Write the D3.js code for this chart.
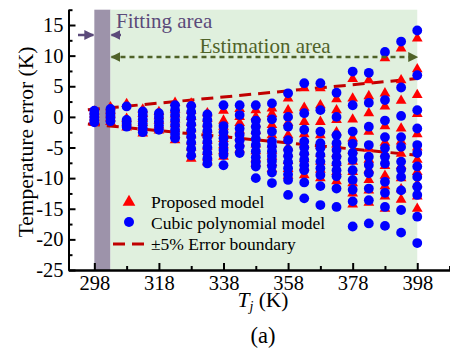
<!DOCTYPE html>
<html><head><meta charset="utf-8">
<script src="https://cdn.jsdelivr.net/npm/d3@7"></script>
<style>body{margin:0;background:#fff}svg{display:block}text{font-family:"Liberation Serif","Times New Roman",serif}</style>
</head><body>
<svg id="c" width="450" height="356"></svg>
<script>
// ---- data ----
const temps = [298,303,308,313,318,323,328,333,338,343,348,353,358,363,368,373,378,383,388,393,398];
const proposedErr = [
  [0.9,0.4,-0.1,-0.6,-1.0],
  [1.6,1.0,0.4,-0.2,-0.8],
  [2.1,-0.3,-0.9,-1.7],
  [1.2,0.5,-0.3,-1.0,-1.8,-2.7],
  [0.8,0.1,-0.6,-1.4,-2.2],
  [2.3,1.2,0.4,-0.4,-1.2,-2.0,-2.9,-3.8],
  [2.2,1.0,0.0,-1.0,-2.0,-3.0,-4.0,-5.0,-6.0,-6.8],
  [0.6,-0.3,-1.2,-2.1,-3.0,-3.9,-4.8,-5.7,-6.6,-7.4],
  [1.0,-0.6,-1.6,-2.6,-3.6,-4.6,-5.5,-6.5],
  [1.3,0.0,-1.0,-2.2,-3.3,-4.3,-5.3],
  [1.1,0.0,-1.2,-2.3,-3.4,-4.5,-5.6,-6.8,-7.6],
  [1.4,0.5,-1.3,-3.0,-4.5,-5.5,-6.5,-7.5,-8.5],
  [3.0,1.1,-1.0,-3.0,-5.0,-6.0,-7.2,-8.5,-9.6],
  [4.7,1.5,-0.8,-2.8,-4.5,-5.7,-6.9,-8.2,-9.5],
  [4.7,1.9,-0.8,-3.0,-4.7,-6.0,-7.3,-8.6,-10.0],
  [2.9,1.1,-0.5,-2.5,-4.5,-6.0,-7.5,-9.0,-10.5],
  [6.2,3.0,-0.4,-3.5,-5.5,-7.3,-9.0,-10.8,-12.5,-14.3],
  [6.0,3.4,0.6,-2.4,-5.2,-7.0,-8.6,-10.3,-12.0,-14.0],
  [9.6,3.85,1.7,-1.5,-4.2,-6.0,-8.0,-9.6,-11.3,-13.0,-15.0],
  [11.2,6.0,2.65,-1.9,-4.0,-6.0,-8.0,-10.0,-11.8,-13.5],
  [12.8,7.8,3.6,0.5,-2.8,-5.0,-7.0,-9.0,-11.0,-13.0,-15.0]
];
const cubicErr = [
  [1.0,0.5,0.0,-0.5,-0.9],
  [1.3,0.8,0.3,-0.2,-0.7],
  [1.7,-0.5,-1.0,-1.6],
  [0.9,0.3,-0.4,-1.1,-1.8,-2.5],
  [0.6,0.0,-0.7,-1.4,-2.1],
  [1.9,1.1,0.3,-0.5,-1.3,-2.1,-2.8,-3.5],
  [1.8,0.8,-0.2,-1.2,-2.2,-3.2,-4.2,-5.2,-6.3],
  [0.4,-0.5,-1.4,-2.3,-3.2,-4.1,-5.0,-5.9,-6.8,-7.6],
  [1.9,-1.5,-2.5,-3.5,-4.5,-5.4,-6.2,-7.9],
  [1.9,0.3,-1.9,-2.9,-3.8,-4.8,-5.9],
  [1.9,-0.6,-1.6,-2.6,-3.6,-4.6,-5.6,-6.6,-7.4,-8.1,-10.0],
  [2.2,-0.4,-2.4,-4.0,-4.8,-5.6,-6.4,-7.2,-8.0,-9.1,-10.8],
  [3.85,0.0,-1.6,-3.8,-5.4,-6.4,-7.4,-8.4,-9.4,-10.3,-12.75],
  [5.5,0.6,-2.1,-4.0,-5.0,-6.0,-7.0,-7.9,-8.7,-10.7,-13.3],
  [5.5,1.1,-2.4,-4.3,-5.1,-6.2,-7.3,-8.4,-9.5,-11.3,-14.4],
  [3.95,0.0,-3.0,-4.3,-5.4,-6.5,-7.6,-8.7,-9.7,-11.7,-14.7],
  [7.4,1.9,-2.4,-4.4,-5.9,-7.0,-8.7,-10.3,-11.9,-13.8,-17.9],
  [7.2,2.3,-1.6,-4.6,-6.5,-7.85,-9.2,-11.7,-13.6,-17.4],
  [10.6,2.75,-0.6,-3.3,-5.1,-6.5,-7.6,-10.6,-12.4,-14.7,-17.8],
  [12.3,4.8,0.15,-3.3,-4.9,-7.3,-8.6,-9.8,-12.0,-15.2,-18.9],
  [14.1,6.8,1.1,-1.9,-4.6,-5.9,-8.1,-9.8,-11.4,-12.75,-16.3,-20.6]
];
const boundaryT = [296, 398];
const upperBound = [1.15, 6.25];
const lowerBound = [-1.15, -6.25];
const fittingRange = [298, 303];
const estimationRange = [303, 398];
const xTicks = [298,318,338,358,378,398];
const xMinorTicks = [308,328,348,368,388,408];
const yTicks = [-25,-20,-15,-10,-5,0,5,10,15];
const yMinorTicks = [-22.5,-17.5,-12.5,-7.5,-2.5,2.5,7.5,12.5,17.5];
const legendLabels = ["Proposed model","Cubic polynomial model","\u00b15% Error boundary"];

// ---- chart ----
const svg = d3.select("#c");
const x = d3.scaleLinear().domain([290, 410]).range([68.5, 456]);
const y = d3.scaleLinear().domain([-25, 17.5]).range([270, 9.7]);

const purple = "#9d93aa", green = "#e0f0de";
svg.append("rect").attr("x", x(fittingRange[0])).attr("y", y(17.5))
  .attr("width", x(fittingRange[1]) - x(fittingRange[0])).attr("height", y(-25) - y(17.5)).attr("fill", purple);
svg.append("rect").attr("x", x(estimationRange[0])).attr("y", y(17.5))
  .attr("width", x(estimationRange[1]) - x(estimationRange[0])).attr("height", y(-25) - y(17.5)).attr("fill", green);

// error boundaries
const line = d3.line().x(d => x(d[0])).y(d => y(d[1]));
[upperBound, lowerBound].forEach(b => {
  svg.append("path").attr("d", line(boundaryT.map((t, i) => [t, b[i]])))
    .attr("fill", "none").attr("stroke", "#c00000").attr("stroke-width", 3)
    .attr("stroke-dasharray", "12,7");
});

// points
const triPath = d3.symbol().type(d3.symbolTriangle).size(50)();
const triData = [], cirData = [];
temps.forEach((t, i) => {
  proposedErr[i].forEach(v => triData.push([t, v]));
  cubicErr[i].forEach(v => cirData.push([t, v]));
});
svg.append("g").selectAll("path").data(triData).join("path")
  .attr("d", triPath).attr("transform", d => `translate(${x(d[0])},${y(d[1])})`).attr("fill", "#ff0000");
svg.append("g").selectAll("circle").data(cirData).join("circle")
  .attr("cx", d => x(d[0])).attr("cy", d => y(d[1])).attr("r", 4.9).attr("fill", "#0000ff");

// axes
const fmt = d => String(d);
const gx = svg.append("g").attr("transform", "translate(0,270)")
  .call(d3.axisBottom(x).tickValues(xTicks).tickFormat(fmt).tickSizeInner(-7).tickSizeOuter(0).tickPadding(5));
const gxm = svg.append("g").attr("transform", "translate(0,270)")
  .call(d3.axisBottom(x).tickValues(xMinorTicks).tickFormat("").tickSizeInner(-4).tickSizeOuter(0));
const gy = svg.append("g").attr("transform", "translate(68.5,0)")
  .call(d3.axisLeft(y).tickValues(yTicks).tickFormat(fmt).tickSizeInner(-7).tickSizeOuter(0).tickPadding(5));
const gym = svg.append("g").attr("transform", "translate(68.5,0)")
  .call(d3.axisLeft(y).tickValues(yMinorTicks).tickFormat("").tickSizeInner(-4).tickSizeOuter(0));
[gx, gxm, gy, gym].forEach(g => {
  g.selectAll("path.domain").attr("stroke", "#000").attr("stroke-width", 2);
  g.selectAll(".tick line").attr("stroke", "#000").attr("stroke-width", 2);
  g.selectAll("text").attr("font-family", "Liberation Serif").attr("font-size", 20.5).attr("fill", "#000");
});

// axis titles
svg.append("text").attr("transform", "translate(33,142) rotate(-90)").attr("text-anchor", "middle")
  .attr("font-size", 21.5).text("Temperature error (K)");
const xl = svg.append("text").attr("x", 263).attr("y", 307).attr("text-anchor", "middle").attr("font-size", 21.5);
xl.append("tspan").attr("font-style", "italic").text("T");
xl.append("tspan").attr("font-style", "italic").attr("font-size", 14).attr("dy", 4).text("j");
xl.append("tspan").attr("dy", -4).text(" (K)");
svg.append("text").attr("x", 263).attr("y", 343).attr("text-anchor", "middle").attr("font-size", 22.5).text("(a)");

// annotations
const pc = "#5b4a7a", gc = "#4f6228";
const defs = svg.append("defs");
function marker(id, color) {
  defs.append("marker").attr("id", id).attr("viewBox", "0 0 10 10").attr("refX", 9).attr("refY", 5)
    .attr("markerWidth", 4).attr("markerHeight", 4).attr("orient", "auto-start-reverse")
    .append("path").attr("d", "M0,0L10,5L0,10z").attr("fill", color);
}
marker("ap", pc); marker("ag", gc);
svg.append("line").attr("x1", 78).attr("x2", x(298) - 1).attr("y1", 35).attr("y2", 35)
  .attr("stroke", pc).attr("stroke-width", 2.5).attr("marker-end", "url(#ap)");
svg.append("line").attr("x1", 121).attr("x2", x(303) + 1).attr("y1", 35).attr("y2", 35)
  .attr("stroke", pc).attr("stroke-width", 2.5).attr("marker-end", "url(#ap)");
svg.append("text").attr("x", 116).attr("y", 28).attr("fill", pc).attr("font-size", 21).text("Fitting area");
svg.append("line").attr("x1", x(303) + 1).attr("x2", x(398)).attr("y1", 57).attr("y2", 57)
  .attr("stroke", gc).attr("stroke-width", 2.5).attr("stroke-dasharray", "5,4")
  .attr("marker-start", "url(#ag)").attr("marker-end", "url(#ag)");
svg.append("text").attr("x", 265).attr("y", 53).attr("text-anchor", "middle").attr("fill", gc).attr("font-size", 21).text("Estimation area");

// legend
const lg = svg.append("g");
lg.append("path").attr("d", d3.symbol().type(d3.symbolTriangle).size(70)()).attr("transform", "translate(129,202)").attr("fill", "#ff0000");
lg.append("circle").attr("cx", 129).attr("cy", 222).attr("r", 5).attr("fill", "#0000ff");
lg.append("line").attr("x1", 113).attr("x2", 147).attr("y1", 244).attr("y2", 244)
  .attr("stroke", "#c00000").attr("stroke-width", 3).attr("stroke-dasharray", "12,7");
legendLabels.forEach((t, i) => {
  lg.append("text").attr("x", 151).attr("y", 208 + i * 21).attr("font-size", 17.5).text(t);
});
</script>
</body></html>
